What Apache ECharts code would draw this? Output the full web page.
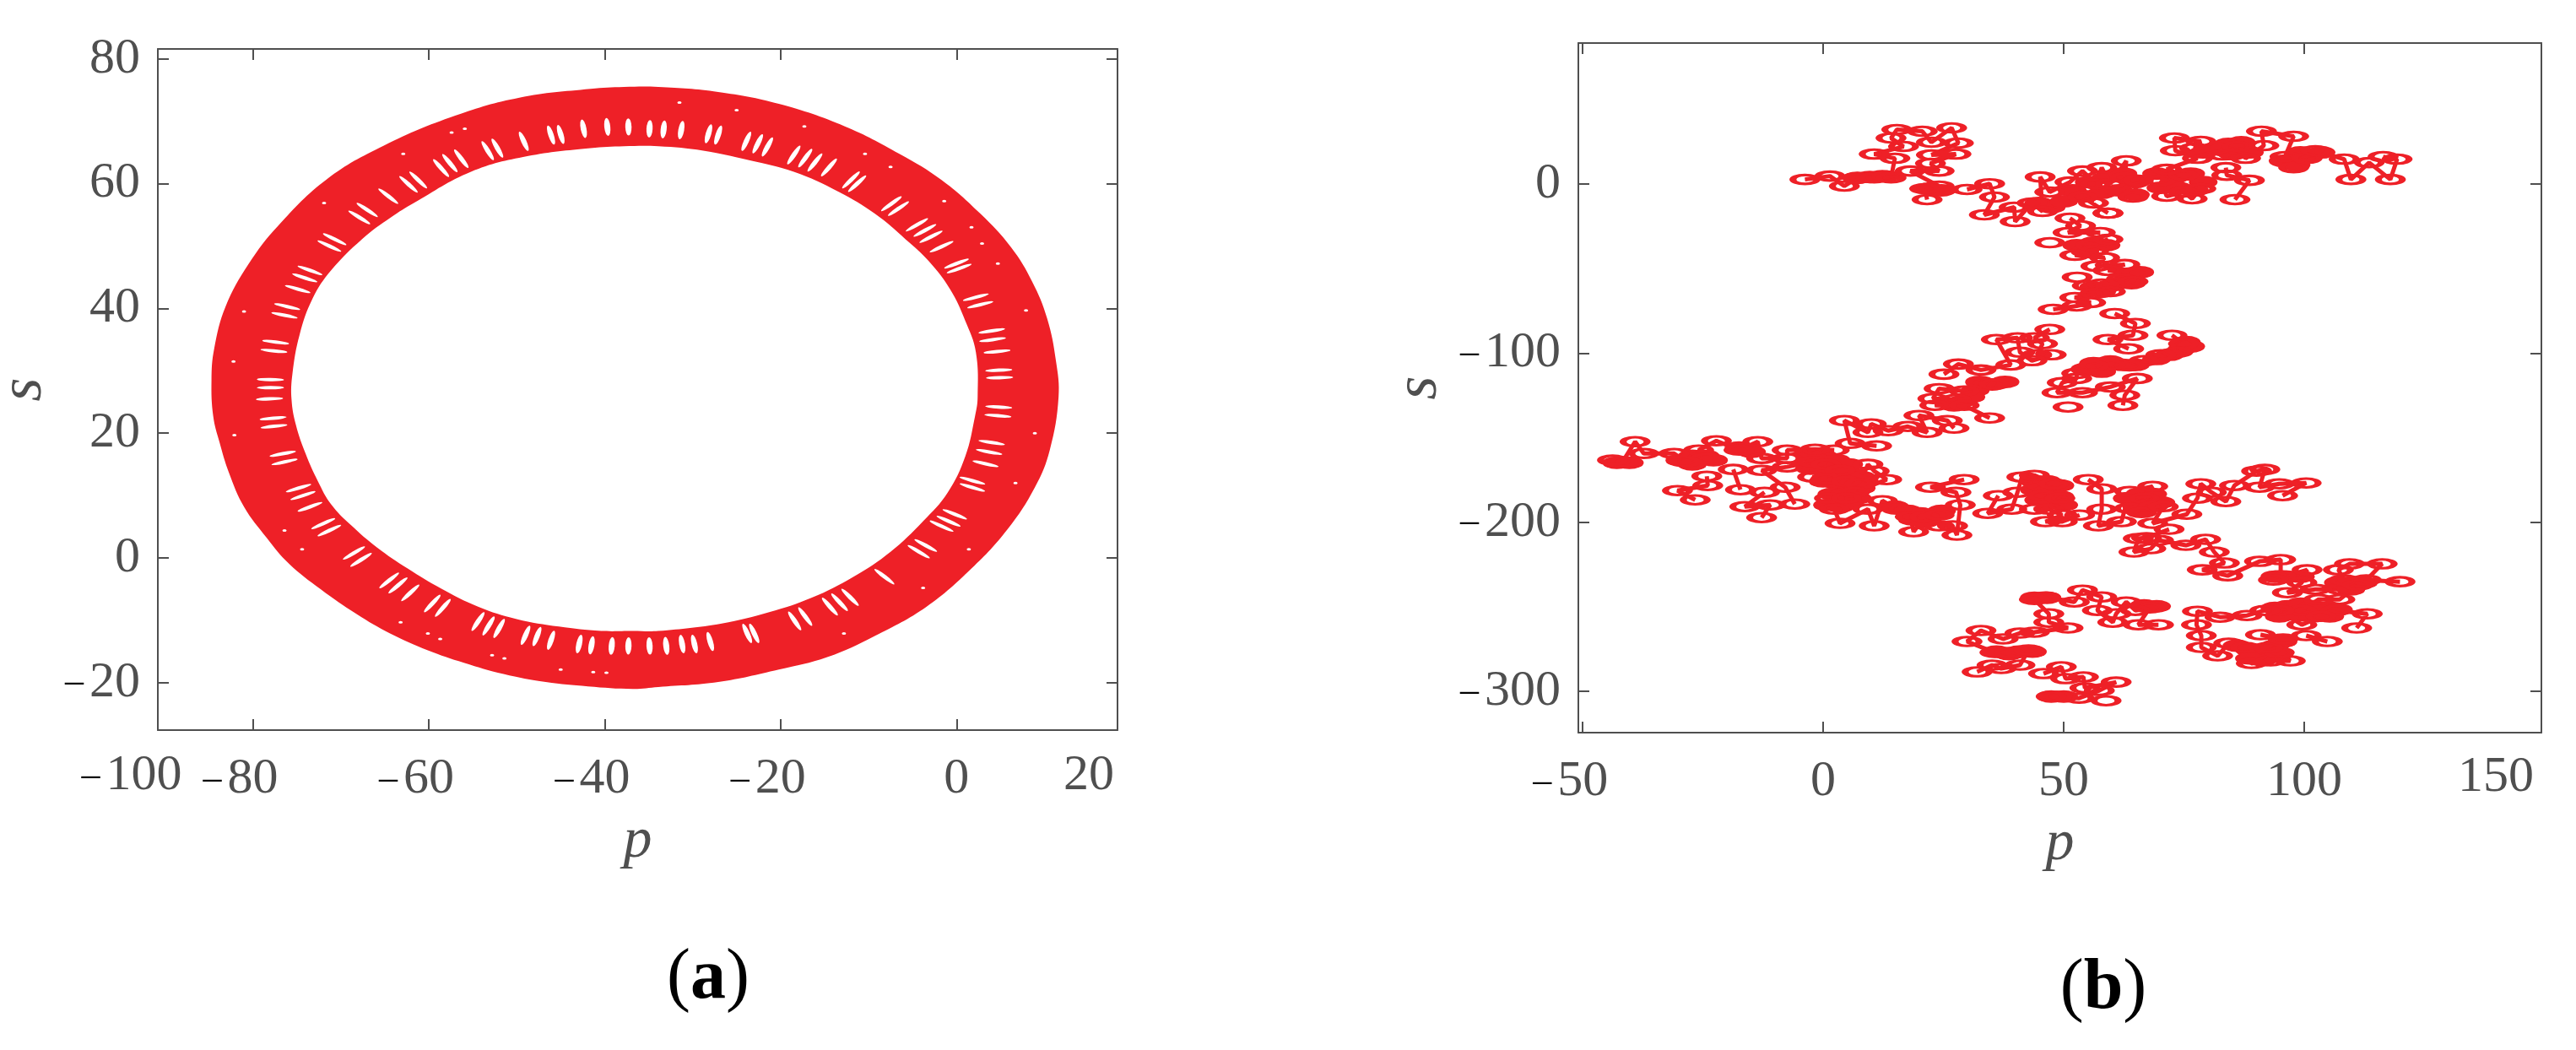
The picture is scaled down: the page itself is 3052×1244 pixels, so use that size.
<!DOCTYPE html>
<html>
<head>
<meta charset="utf-8">
<title>p-s</title>
<script src="https://cdn.jsdelivr.net/npm/echarts@6/dist/echarts.min.js"></script>
<style>
  html, body { margin: 0; background: #fff; }
  #chart { width: 3052px; height: 1244px; }
</style>
</head>
<body>
<div id="chart"></div>
<script>
// axis ticks
const xTicksA = [-80, -60, -40, -20, 0];
const yTicksA = [-20, 0, 20, 40, 60, 80];
const xTicksB = [-50, 0, 50, 100];
const yTicksB = [-300, -200, -100, 0];

// (a) outer and inner edge of the ring, read clockwise from the top
const outerP = [-37.8,-33.9,-27.1,-20.2,-12.7,-6.5,-1.7,2.7,6.2,8.6,10.3,11.3,11.6,10.6,8.9,5.8,1.7,-3.4,-9.3,-14.7,-20.2,-27.1,-33.9,-36.8,-41.9,-46.7,-51.5,-56.0,-60.1,-64.4,-68.2,-72.3,-75.9,-78.4,-81.0,-82.7,-83.8,-84.5,-84.7,-84.4,-83.1,-80.5,-77.1,-71.6,-65.1,-57.0,-49.7,-41.6];
const outerS = [75.5,75.5,74.7,72.8,69.2,64.8,60.6,55.2,49.8,44.3,38.4,31.6,25.8,17.3,11.3,4.6,-1.7,-7.8,-12.5,-15.9,-17.9,-19.9,-20.7,-21.0,-20.6,-19.9,-18.6,-16.8,-14.8,-12.1,-9.0,-5.0,-0.9,3.2,8.2,13.6,18.6,22.7,28.5,33.5,40.3,47.1,53.3,60.7,66.1,70.9,73.8,75.2];
const innerP = [-37.8,-33.9,-28.8,-23.7,-18.5,-13.4,-9.3,-5.8,-3.1,-0.7,1.0,2.2,2.4,2.1,1.0,-1.0,-3.8,-7.5,-11.7,-16.5,-21.3,-26.7,-33.9,-36.8,-40.4,-45.2,-50.0,-54.4,-58.6,-62.4,-65.9,-68.8,-71.1,-72.6,-74.0,-75.1,-75.6,-75.5,-74.7,-73.2,-71.1,-67.6,-64.3,-61.7,-55.2,-48.8,-41.6];
const innerS = [66.0,66.0,65.3,63.8,61.9,58.7,55.2,51.1,47.5,43.0,38.0,33.0,25.8,22.7,16.3,10.5,5.9,1.0,-3.0,-6.4,-8.7,-10.5,-11.7,-11.7,-11.7,-11.0,-9.8,-7.8,-4.9,-1.7,1.7,5.2,8.6,12.3,16.7,21.3,25.4,29.5,35.7,41.6,46.1,51.1,54.6,56.9,61.9,64.4,65.7];

// (a) holes left open along the middle of the ring
const slitP = [-77.4,-77.6,-78.0,-78.0,-78.1,-77.7,-77.6,-76.6,-76.4,-74.8,-74.3,-73.5,-72.0,-71.3,-68.5,-67.7,-64.5,-63.5,-62.1,-59.6,-58.4,-54.4,-53.2,-52.0,-49.0,-47.7,-46.1,-42.9,-41.5,-39.2,-37.3,-34.9,-33.0,-31.2,-29.8,-28.0,-23.8,-23.0,-18.4,-17.2,-14.4,-13.3,-12.1,-8.2,-4.3,-3.5,-1.7,-0.9,-0.2,1.8,1.8,3.3,3.7,4.0,4.7,4.8,4.9,4.8,4.6,4.1,4.0,2.7,2.2,0.3,0.0,-1.7,-2.9,-3.6,-4.5,-6.6,-7.4,-11.3,-12.0,-14.5,-16.1,-17.2,-18.5,-21.5,-22.6,-23.9,-27.1,-28.2,-31.3,-33.3,-34.9,-37.3,-39.7,-42.4,-45.0,-46.1,-49.2,-52.2,-53.3,-56.3,-57.6,-58.6,-61.2,-62.3,-64.6,-67.0,-67.9,-70.7,-71.3,-73.5,-74.1,-74.9,-76.1,-76.4];
const slitS = [34.6,33.2,28.6,27.3,25.5,22.4,21.1,16.7,15.4,11.2,10.0,8.2,5.5,4.4,0.8,-0.3,-3.6,-4.4,-5.6,-7.3,-8.0,-10.2,-10.9,-11.3,-12.4,-12.6,-13.2,-13.8,-14.0,-14.1,-14.1,-14.1,-14.1,-13.8,-13.8,-13.4,-12.1,-12.1,-10.1,-9.4,-7.8,-7.1,-6.3,-3.0,1.0,2.0,5.1,5.9,7.0,11.3,12.4,15.1,17.0,18.5,22.8,24.2,28.9,30.1,33.1,35.0,36.4,40.6,41.8,46.4,47.2,49.9,51.5,52.5,53.4,56.0,56.8,60.0,60.6,62.6,63.4,64.1,64.6,65.9,66.4,66.8,67.8,68.0,68.6,68.7,68.8,69.1,69.1,68.8,67.9,67.8,66.8,65.7,65.3,64.0,63.3,62.5,60.6,59.9,58.0,55.8,54.6,51.1,50.0,46.1,44.9,43.1,40.3,38.9];
const speckP = [-82.2,-82.1,-76.4,-74.4,-63.2,-60.1,-58.7,-52.8,-51.4,-45.0,-41.3,-39.8,-12.8,-3.8,1.4,6.7,8.9,7.9,4.7,2.9,1.7,-1.4,-7.5,-10.4,-17.3,-25.0,-31.5,-55.9,-57.4,-62.9,-71.9,-81.0];
const speckS = [31.5,19.7,4.4,1.4,-10.3,-12.1,-13.0,-15.6,-16.1,-17.9,-18.3,-18.4,-12.1,-4.8,1.4,12.0,20.0,39.7,47.2,50.4,53.0,57.2,62.7,64.8,69.2,71.8,73.0,68.8,68.2,64.8,56.9,39.5];

// (b) centres of the small loops, in walking order
const loopP = [-3.8,1.4,4.4,7.1,10.6,13.2,14.1,14.9,10.6,16.7,14.1,15.3,20.6,22.5,26.7,28.1,22.5,27.6,22.3,24.1,18.1,24.1,21.1,21.6,29.9,34.6,35.6,33.5,39.7,39.9,43.4,45.6,45.1,47.1,51.3,53.9,56.7,57.9,59.7,63.0,62.7,65.5,64.4,56.2,53.9,59.2,70.2,71.4,74.9,76.7,78.5,85.6,88.6,83.9,83.7,74.9,71.4,77.8,73.2,73.0,78.5,77.2,83.0,86.0,87.8,91.6,91.1,97.8,96.0,97.8,100.6,102.3,108.3,109.7,113.5,117.9,119.3,116.4,
  59.2,51.3,53.5,50.9,57.6,47.1,55.6,59.2,56.2,52.3,58.5,56.7,62.7,59.2,65.3,52.8,62.0,64.4,57.9,54.9,59.7,56.5,52.3,55.6,52.7,47.8,60.6,64.9,64.4,59.2,63.5,72.5,74.9,73.7,70.2,66.7,63.7,59.7,56.2,52.7,52.7,49.7,48.6,53.9,59.7,65.3,62.7,62.3,50.9,
  47.1,43.9,45.6,44.4,47.4,43.4,40.9,40.4,36.0,39.0,32.8,28.1,25.1,32.8,35.6,29.3,24.1,22.8,27.6,23.2,29.3,34.6,27.2,25.8,19.9,21.6,17.6,13.5,10.0,9.3,4.4,5.6,11.1,2.3,-1.7,-7.5,
  -7.5,-12.8,-13.6,-17.5,-22.2,-25.9,-24.5,-28.6,-31.0,-37.3,-39.1,-41.7,-43.8,-24.2,-24.0,-30.3,-26.6,-17.2,-18.7,-12.2,-16.3,-11.0,-12.8,-5.9,-7.9,-12.8,-7.5,
  -2.2,0.6,3.5,-2.2,0.6,4.8,7.6,9.3,10.6,13.2,6.5,1.3,4.8,2.3,3.5,9.3,10.6,12.3,15.3,18.1,18.8,21.1,24.1,24.1,26.9,27.8,28.5,27.6,22.3,29.3,36.4,34.2,39.2,40.4,41.3,43.9,47.9,45.6,49.2,43.9,46.9,49.7,46.2,49.7,53.3,55.1,57.9,57.9,57.2,62.0,63.7,68.5,66.7,63.7,68.5,66.2,70.7,68.5,75.6,77.8,78.5,80.7,83.7,85.5,90.1,91.8,90.7,94.8,100.4,95.5,
  71.9,67.2,65.5,64.6,68.1,69.7,75.4,79.5,81.3,83.4,78.8,84.1,90.7,95.1,95.1,93.6,100.6,99.5,96.5,102.3,107.6,108.3,107.1,109.4,116.2,112.9,119.9,111.1,107.4,103.0,99.5,106.5,113.1,110.9,103.5,99.5,94.8,91.8,88.1,82.5,77.8,77.6,78.6,78.6,82.0,84.3,87.8,89.0,93.0,97.1,94.8,92.5,95.6,90.9,100.4,104.8,
  69.7,65.5,67.9,64.9,63.0,60.9,60.2,57.0,57.9,53.9,52.2,46.2,43.9,46.9,46.9,50.9,43.9,40.9,37.4,32.8,29.9,35.7,38.6,40.9,42.7,40.9,37.0,35.1,32.0,45.8,49.5,50.4,54.1,54.4,60.9,57.4,53.2,48.6,47.4,58.8];
const loopS = [2.8,4.8,-1.1,3.8,3.8,4.8,3.8,15.3,17.8,22.3,27.3,32.3,31.3,24.8,33.3,24.3,17.3,17.8,12.3,7.8,7.8,-1.1,-2.6,-9.1,-3.1,0.3,-7.6,-18.1,-13.6,-22.1,-11.1,-16.1,4.3,-4.6,1.3,7.8,0.3,9.8,0.3,13.8,3.8,2.3,-7.6,-11.1,-7.6,-17.1,2.3,-7.1,-4.6,-8.6,-2.6,-9.1,2.3,5.3,9.8,5.3,8.8,15.3,19.8,27.3,25.3,21.3,17.3,22.3,15.3,22.8,31.3,28.3,16.3,9.8,15.3,19.8,14.8,2.8,12.8,2.8,14.8,16.3,
  -17.1,-20.1,-24.6,-28.6,-28.6,-34.6,-36.1,-32.6,-39.6,-42.0,-43.5,-48.5,-47.5,-51.0,-52.5,-55.0,-56.0,-57.5,-59.0,-60.0,-63.5,-64.5,-67.0,-70.0,-72.0,-74.0,-76.5,-82.4,-89.4,-91.9,-97.4,-89.4,-94.4,-99.4,-100.9,-104.4,-107.4,-106.9,-107.4,-111.9,-114.9,-117.4,-123.3,-123.3,-119.9,-114.9,-124.8,-130.8,-131.8,
  -85.9,-90.9,-94.4,-100.9,-100.9,-104.4,-99.4,-90.9,-91.9,-106.9,-109.9,-106.4,-112.4,-117.4,-118.4,-122.3,-120.9,-126.8,-127.3,-130.8,-130.8,-138.3,-144.3,-139.8,-136.8,-146.8,-143.3,-145.8,-141.8,-146.8,-139.8,-153.3,-154.8,-157.3,-156.8,-157.3,
  -162.2,-162.2,-152.3,-157.3,-151.8,-157.3,-162.2,-164.2,-159.3,-159.3,-152.3,-164.2,-163.2,-172.7,-178.2,-181.2,-186.7,-180.7,-168.7,-182.2,-190.7,-189.7,-197.2,-189.2,-179.2,-169.2,-167.2,
  -164.2,-165.7,-169.2,-173.2,-174.2,-175.7,-177.2,-165.7,-169.7,-174.7,-182.2,-185.7,-185.7,-192.2,-200.6,-192.2,-202.1,-187.2,-192.2,-196.7,-205.6,-196.7,-195.7,-202.1,-202.1,-207.6,-189.7,-182.2,-179.2,-174.7,-184.2,-194.7,-192.2,-182.2,-173.2,-172.2,-177.2,-184.2,-185.7,-192.2,-192.2,-195.7,-199.6,-199.6,-195.7,-174.7,-180.2,-192.2,-202.1,-199.6,-181.7,-178.7,-185.7,-191.7,-190.7,-194.2,-190.7,-200.6,-195.2,-185.7,-177.2,-182.2,-187.7,-178.2,-169.7,-168.7,-179.2,-177.2,-176.7,-184.2,
  -204.1,-209.1,-209.6,-217.6,-215.6,-210.6,-213.6,-210.1,-217.6,-224.1,-228.1,-231.6,-223.1,-222.1,-231.6,-234.1,-228.1,-235.6,-241.6,-239.6,-239.6,-234.1,-228.1,-224.6,-224.6,-234.1,-235.1,-237.1,-245.6,-245.6,-252.1,-252.1,-254.1,-262.5,-255.6,-260.6,-252.1,-252.1,-255.1,-256.1,-252.6,-260.6,-267.0,-274.0,-279.0,-271.5,-274.0,-283.5,-282.0,-282.0,-277.0,-274.0,-269.0,-266.5,-267.0,-270.5,
  -260.6,-260.6,-250.6,-252.1,-247.1,-254.1,-259.1,-252.1,-244.1,-240.1,-247.1,-244.1,-245.6,-254.1,-259.1,-262.5,-265.0,-265.5,-269.0,-264.0,-270.5,-277.0,-277.0,-277.0,-275.5,-284.5,-286.5,-284.5,-288.5,-289.5,-285.5,-292.5,-291.5,-298.0,-294.5,-299.5,-304.0,-303.0,-303.0,-305.5];

// (b) places where the loops pile up into solid red
const blobP = [7.1,9.7,12.3,22.0,24.6,51.8,55.3,58.8,62.3,64.9,54.4,57.9,61.4,64.9,44.8,47.4,50.0,69.3,72.8,76.4,79.0,70.2,73.7,77.2,84.2,86.9,85.1,88.6,79.0,81.6,95.6,98.3,100.9,103.5,99.2,52.7,56.2,58.8,54.4,63.2,65.8,61.4,57.9,56.2,59.7,64.1,75.5,74.6,72.0,69.3,76.4,56.2,59.7,62.3,64.9,57.9,54.4,32.5,35.1,37.8,31.6,29.0,27.2,30.7,-29.8,-27.2,-24.5,-22.8,-27.2,-17.5,-14.9,-42.9,-40.3,-2.6,0.0,2.7,5.3,-2.6,0.0,2.7,5.3,7.9,0.0,2.7,5.3,7.9,1.8,4.4,7.1,0.9,3.5,5.3,14.9,17.6,20.2,22.8,24.6,18.5,21.1,43.9,46.5,49.2,43.9,46.5,49.2,44.8,47.4,50.0,63.2,65.8,68.5,65.0,67.6,70.2,65.8,93.9,96.5,99.2,101.8,104.4,107.1,94.8,98.3,101.8,105.3,86.0,88.6,91.3,93.9,95.6,94.8,91.3,88.6,107.1,109.7,112.3,109.7,93.9,96.5,99.2,47.4,50.0,36.0,38.6,40.7,43.5,43.9,46.5,66.7,69.3];
const blobS = [3.8,4.3,4.8,-2.6,-3.6,-3.6,1.3,3.8,6.3,1.3,-7.1,-5.1,-3.6,-6.1,-11.1,-13.6,-10.1,6.3,3.8,6.3,1.3,-2.1,-2.1,-3.6,23.8,24.8,17.8,18.8,18.8,21.3,13.8,11.3,16.3,18.8,18.8,-36.1,-34.6,-36.1,-39.6,-53.5,-52.0,-58.5,-63.5,-61.0,-60.0,-58.5,-93.4,-97.4,-100.9,-103.4,-95.9,-105.9,-104.9,-106.9,-106.9,-110.9,-109.4,-116.9,-118.4,-116.9,-121.9,-128.3,-130.8,-125.8,-163.2,-160.7,-160.7,-163.2,-165.7,-155.8,-158.3,-164.7,-164.7,-160.7,-160.7,-163.2,-165.7,-168.2,-168.2,-169.7,-170.7,-173.2,-175.7,-176.7,-176.7,-179.7,-183.2,-183.2,-185.7,-189.7,-190.7,-188.2,-190.7,-193.2,-194.7,-195.7,-193.2,-198.2,-199.7,-175.7,-175.7,-178.2,-180.7,-181.7,-184.7,-186.7,-188.2,-189.7,-185.7,-183.2,-183.2,-189.7,-189.7,-188.2,-193.2,-250.6,-249.6,-248.1,-249.6,-250.6,-251.6,-255.6,-254.6,-255.6,-255.6,-273.0,-275.5,-276.5,-273.0,-270.5,-278.0,-281.5,-280.5,-235.6,-235.6,-235.6,-239.6,-232.1,-232.1,-232.1,-303.0,-303.0,-276.5,-278.0,-276.5,-276.5,-244.6,-244.6,-249.1,-249.6];

const RED = '#ee2027';
const GREY = '#4f4f4f';
const FONT = 'Liberation Serif';

function zipPts(xs, ys) {
  return xs.map((x, i) => [x, ys[i]]);
}

// loops that are not neighbours on the page are not joined
function chainPts() {
  const out = [];
  for (let i = 0; i < loopP.length; i++) {
    if (i > 0) {
      const dx = (loopP[i] - loopP[i - 1]) * 5.7;
      const dy = (loopS[i] - loopS[i - 1]) * 2;
      if (Math.hypot(dx, dy) > 42) out.push(['-', '-']);
    }
    out.push([loopP[i], loopS[i]]);
  }
  return out;
}

const richLabel = {
  d: { fontFamily: FONT, fontSize: 44, color: '#000', padding: [0, 7, 0, 0] },
  n: { fontFamily: FONT, fontSize: 60, color: GREY },
  e: { width: 29, fontSize: 60 }
};
const richText = {
  d: { fontFamily: FONT, fontSize: 44, fill: '#000', padding: [0, 7, 0, 0] },
  n: { fontFamily: FONT, fontSize: 60, fill: GREY }
};

function yLabel(v) {
  return v < 0 ? '{d|–}{n|' + (-v) + '}' : '{n|' + v + '}';
}
// minus sign hangs out to the left of the tick, as in the figure
function xLabel(v) {
  return v < 0 ? '{d|–}{n|' + (-v) + '}{e|}' : '{n|' + v + '}';
}

function baseAxis(extra) {
  return Object.assign({
    type: 'value',
    scale: true,
    splitLine: { show: false },
    axisLine: { show: true, onZero: false, lineStyle: { color: GREY, width: 2 } },
    axisTick: { show: true, inside: true, length: 13, lineStyle: { color: GREY, width: 2 } },
    axisLabel: { show: false }
  }, extra);
}

function panelAxes(gridIndex, xr, yr, xt, yt, xGap, yGap) {
  const tick = (vals) => ({ show: true, inside: true, length: 13, customValues: vals, lineStyle: { color: GREY, width: 2 } });
  const label = { show: true, fontFamily: FONT, fontSize: 60, color: GREY, rich: richLabel, hideOverlap: false };
  return {
    x: [
      baseAxis({
        gridIndex, position: 'bottom', min: xr[0], max: xr[1], axisTick: tick(xt),
        name: 'p', nameLocation: 'middle', nameGap: xGap,
        nameTextStyle: { fontFamily: FONT, fontStyle: 'italic', fontSize: 68, color: GREY },
        axisLabel: Object.assign({ customValues: xt, margin: 28, formatter: xLabel }, label)
      }),
      baseAxis({ gridIndex, position: 'top', min: xr[0], max: xr[1], axisTick: tick(xt) })
    ],
    y: [
      baseAxis({
        gridIndex, position: 'left', min: yr[0], max: yr[1], axisTick: tick(yt),
        name: 's', nameLocation: 'middle', nameGap: yGap, nameRotate: 90,
        nameTextStyle: { fontFamily: FONT, fontStyle: 'italic', fontSize: 72, color: GREY },
        axisLabel: Object.assign({ customValues: yt, margin: 21, formatter: yLabel }, label)
      }),
      baseAxis({ gridIndex, position: 'right', min: yr[0], max: yr[1], axisTick: tick(yt) })
    ]
  };
}

const axesA = panelAxes(0, [-90.8, 18.3], [-27.6, 81.6], xTicksA, yTicksA, 98, 122);
const axesB = panelAxes(1, [-50.9, 149.3], [-324.4, 83.5], xTicksB, yTicksB, 98, 152);

function ringItem(params, api) {
  const outer = outerP.map((p, i) => api.coord([p, outerS[i]]));
  const inner = innerP.map((p, i) => api.coord([p, innerS[i]]));
  return {
    type: 'group',
    children: [
      { type: 'polygon', shape: { points: outer, smooth: 0.4 }, style: { fill: RED } },
      { type: 'polygon', shape: { points: inner, smooth: 0.4 }, style: { fill: '#fff' } }
    ]
  };
}

// the holes point away from the centre of the ring on the page
function slitAngle(v) {
  return Math.atan2((v[1] - 27.5) * 7.39, (v[0] + 36.5) * 10.42) * 180 / Math.PI;
}

function strayLabel(x, y, text) {
  return {
    type: 'text', x, y, z: 10,
    style: { text, align: 'center', verticalAlign: 'middle', rich: richText }
  };
}
function captionText(x, y, letter) {
  return {
    type: 'text', x, y, z: 10,
    style: {
      text: '{r|(}{b|' + letter + '}{r|)}', align: 'center', verticalAlign: 'middle',
      rich: {
        r: { fontFamily: FONT, fontSize: 84, fill: '#000' },
        b: { fontFamily: FONT, fontSize: 84, fontWeight: 'bold', fill: '#000' }
      }
    }
  };
}

const chart = echarts.init(document.getElementById('chart'), null, { renderer: 'canvas' });
chart.setOption({
  animation: false,
  backgroundColor: '#fff',
  grid: [
    { left: 187, top: 58, width: 1137, height: 807, outerBoundsMode: 'none' },
    { left: 1870, top: 51, width: 1141, height: 817, outerBoundsMode: 'none' }
  ],
  xAxis: axesA.x.concat(axesB.x),
  yAxis: axesA.y.concat(axesB.y),
  graphic: [
    strayLabel(156, 919, '{d|–}{n|100}'),
    strayLabel(1290, 919, '{n|20}'),
    strayLabel(2957, 921, '{n|150}'),
    captionText(839, 1160, 'a'),
    captionText(2492, 1172, 'b')
  ],
  series: [
    {
      type: 'custom', xAxisIndex: 0, yAxisIndex: 0, coordinateSystem: 'cartesian2d',
      data: [[outerP[0], outerS[0]]], renderItem: ringItem, z: 2, silent: true
    },
    {
      type: 'scatter', xAxisIndex: 0, yAxisIndex: 0, data: zipPts(slitP, slitS), z: 3, silent: true,
      symbol: 'circle',
      symbolSize: (v) => {
        const c = Math.abs(Math.cos(slitAngle(v) * Math.PI / 180));
        return [20 + 12 * c, 7.5 - 3.5 * c];
      },
      symbolRotate: slitAngle,
      itemStyle: { color: '#fff', opacity: 1 }
    },
    {
      type: 'scatter', xAxisIndex: 0, yAxisIndex: 0, data: zipPts(speckP, speckS), z: 3, silent: true,
      symbol: 'circle', symbolSize: [5, 3], itemStyle: { color: '#fff', opacity: 1 }
    },
    {
      type: 'line', xAxisIndex: 2, yAxisIndex: 2, data: chainPts(), z: 2, silent: true,
      symbol: 'none', connectNulls: false, lineStyle: { color: RED, width: 5 }
    },
    {
      type: 'scatter', xAxisIndex: 2, yAxisIndex: 2, data: zipPts(blobP, blobS), z: 2, silent: true,
      symbol: 'circle', symbolSize: [34, 15], itemStyle: { color: RED, opacity: 1 }
    },
    {
      type: 'scatter', xAxisIndex: 2, yAxisIndex: 2, data: zipPts(loopP, loopS), z: 3, silent: true,
      symbol: 'circle', symbolSize: [28.5, 10.5],
      itemStyle: { color: 'rgba(0,0,0,0)', borderColor: RED, borderWidth: 5, opacity: 1 }
    }
  ]
});
</script>
</body>
</html>
